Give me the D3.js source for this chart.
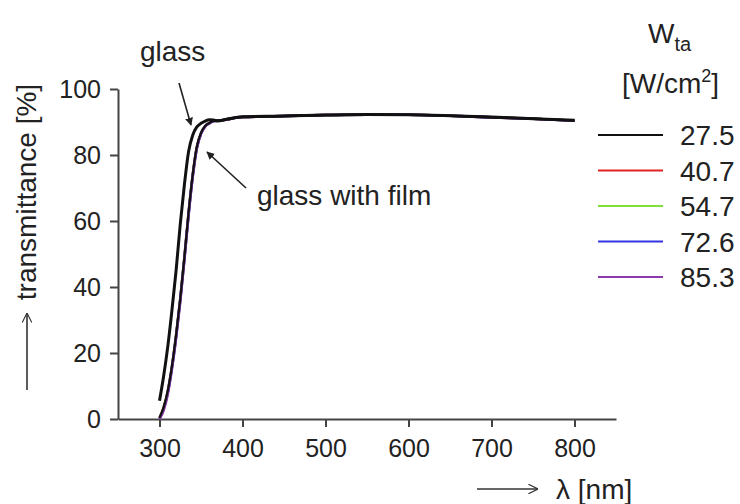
<!DOCTYPE html>
<html>
<meta charset="utf-8">
<head>
    <script src="https://d3js.org/d3.v7.min.js"></script>
    <style>
        body { margin: 0; background: #fff; }
        text { font-family: "Liberation Sans", Arial, sans-serif; fill: #222; }
    </style>
</head>
<body>
    <script>

        // wavelength grid (nm)
        var wavelengths = [300, 305, 310, 315, 320, 325, 330, 335, 340, 345, 350, 355, 360, 365, 370, 380, 390, 400, 450, 500, 550, 600, 650, 700, 750, 800];

        // bare glass
        var glass = [5.5, 13, 22, 33, 45, 59, 71, 81, 86, 88.5, 89.6, 90.3, 90.7, 90.6, 90.3, 90.8, 91.3, 91.6, 91.8, 92.1, 92.3, 92.2, 91.9, 91.5, 91.0, 90.5];

        // glass with film, one series per W_ta
        var film275 = [0.4, 3.6, 8.6, 16, 25.5, 36.5, 49, 62.5, 74, 82.5, 86.7, 88.8, 89.7, 90.3, 90.4, 90.7, 91.2, 91.5, 91.8, 92.1, 92.2, 92.2, 91.9, 91.4, 91.0, 90.4];
        var film407 = [0.3, 3.5, 8.5, 16, 25.4, 36.4, 49, 62.4, 74, 82.4, 86.6, 88.8, 89.7, 90.3, 90.4, 90.7, 91.2, 91.5, 91.8, 92.1, 92.2, 92.2, 91.9, 91.4, 91.0, 90.4];
        var film547 = [0.2, 3.3, 8.3, 15.8, 25.2, 36.2, 48.8, 62.2, 73.8, 82.3, 86.6, 88.7, 89.7, 90.3, 90.4, 90.7, 91.2, 91.5, 91.8, 92.1, 92.2, 92.2, 91.9, 91.4, 91.0, 90.4];
        var film726 = [0.1, 3.1, 8.1, 15.6, 25.0, 36.0, 48.6, 62.0, 73.6, 82.2, 86.5, 88.7, 89.6, 90.3, 90.4, 90.7, 91.2, 91.5, 91.8, 92.1, 92.2, 92.2, 91.9, 91.4, 91.0, 90.4];
        var film853 = [0.0, 2.6, 7.6, 15.2, 24.6, 35.6, 48.3, 61.7, 73.4, 82.0, 86.4, 88.6, 89.6, 90.2, 90.4, 90.7, 91.2, 91.5, 91.8, 92.1, 92.2, 92.2, 91.9, 91.4, 91.0, 90.4];

        var legendLabels = ["27.5", "40.7", "54.7", "72.6", "85.3"];
        var legendColors = ["#111111", "#e02424", "#7ee03a", "#3434e6", "#8a3aaa"];
        var filmSeries = [film275, film407, film547, film726, film853];

        var xMajor = [300, 400, 500, 600, 700, 800];
        var xMinor = [250, 350, 450, 550, 650, 750, 850];
        var yMajor = [0, 20, 40, 60, 80, 100];
        var yMinor = [10, 30, 50, 70, 90];

        var width = 740,
            height = 504;

        var svg = d3.select("body").append("svg")
            .attr("width", width)
            .attr("height", height);

        var defs = svg.append("defs");
        defs.append("marker")
            .attr("id", "solid")
            .attr("viewBox", "0 0 10 10")
            .attr("refX", 9).attr("refY", 5)
            .attr("markerWidth", 5).attr("markerHeight", 5)
            .attr("markerUnits", "strokeWidth")
            .attr("orient", "auto")
            .append("path")
            .attr("d", "M0,0 L10,5 L0,10 Z")
            .attr("fill", "#222");
        defs.append("marker")
            .attr("id", "open")
            .attr("viewBox", "0 0 10 10")
            .attr("refX", 10).attr("refY", 5)
            .attr("markerWidth", 6).attr("markerHeight", 6)
            .attr("markerUnits", "strokeWidth")
            .attr("orient", "auto")
            .append("path")
            .attr("d", "M0,0 L10,5 L0,10")
            .attr("fill", "none")
            .attr("stroke", "#333")
            .attr("stroke-width", 1.2);

        var x = d3.scaleLinear().domain([250, 850]).range([118, 616]);
        var y = d3.scaleLinear().domain([0, 100]).range([419, 89]);

        // axes
        var gx = svg.append("g").attr("transform", "translate(0," + y(0) + ")");
        gx.call(d3.axisBottom(x).tickValues(xMinor).tickSize(4).tickSizeOuter(0).tickFormat(""));
        gx.call(d3.axisBottom(x).tickValues(xMajor).tickSize(8).tickSizeOuter(0).tickPadding(12));

        var gy = svg.append("g").attr("transform", "translate(" + x(250) + ",0)");
        gy.call(d3.axisLeft(y).tickValues(yMinor).tickSize(4).tickSizeOuter(0).tickFormat(""));
        gy.call(d3.axisLeft(y).tickValues(yMajor).tickSize(8).tickSizeOuter(0).tickPadding(9));

        svg.selectAll(".domain, .tick line").attr("stroke", "#444").attr("stroke-width", 2);
        svg.selectAll(".tick text").attr("font-size", 25).attr("fill", "#222")
            .style("font-family", "Liberation Sans, Arial, sans-serif");

        // curves
        var line = d3.line()
            .x(function(d) { return x(d[0]); })
            .y(function(d) { return y(d[1]); })
            .curve(d3.curveMonotoneX);

        var drawOrder = [1, 2, 3, 4, 0];
        drawOrder.forEach(function(i) {
            svg.append("path")
                .datum(d3.zip(wavelengths, filmSeries[i]))
                .attr("d", line)
                .attr("fill", "none")
                .attr("stroke", legendColors[i])
                .attr("stroke-width", i == 0 ? 2.2 : 2.6);
        });

        svg.append("path")
            .datum(d3.zip(wavelengths, glass))
            .attr("d", line)
            .attr("fill", "none")
            .attr("stroke", "#111")
            .attr("stroke-width", 3);

        // annotations
        svg.append("text").attr("x", 140).attr("y", 61).attr("font-size", 28).text("glass");
        svg.append("line")
            .attr("x1", 179).attr("y1", 83).attr("x2", 191).attr("y2", 125)
            .attr("stroke", "#222").attr("stroke-width", 1.6)
            .attr("marker-end", "url(#solid)");

        svg.append("text").attr("x", 257).attr("y", 205).attr("font-size", 28).text("glass with film");
        svg.append("line")
            .attr("x1", 246).attr("y1", 188).attr("x2", 207).attr("y2", 152)
            .attr("stroke", "#222").attr("stroke-width", 1.6)
            .attr("marker-end", "url(#solid)");

        // axis titles
        svg.append("text")
            .attr("transform", "translate(36,192) rotate(-90)")
            .attr("text-anchor", "middle")
            .attr("font-size", 28)
            .text("transmittance [%]");
        svg.append("line")
            .attr("x1", 27).attr("y1", 390).attr("x2", 27).attr("y2", 313)
            .attr("stroke", "#333").attr("stroke-width", 1.6)
            .attr("marker-end", "url(#open)");

        svg.append("line")
            .attr("x1", 477).attr("y1", 489).attr("x2", 538).attr("y2", 489)
            .attr("stroke", "#333").attr("stroke-width", 1.6)
            .attr("marker-end", "url(#open)");
        svg.append("text").attr("x", 556).attr("y", 499).attr("font-size", 28).text("λ [nm]");

        // legend
        var lt = svg.append("text").attr("x", 648).attr("y", 43).attr("font-size", 28);
        lt.append("tspan").text("W");
        lt.append("tspan").attr("font-size", 20).attr("dy", 8).text("ta");

        var lu = svg.append("text").attr("x", 622).attr("y", 93).attr("font-size", 28);
        lu.append("tspan").text("[W/cm");
        lu.append("tspan").attr("font-size", 18).attr("dy", -11).text("2");
        lu.append("tspan").attr("dy", 11).text("]");

        var leg = svg.selectAll(".leg")
            .data(legendLabels)
            .enter().append("g")
            .attr("class", "leg")
            .attr("transform", function(d, i) { return "translate(0," + (135 + i * 35.5) + ")"; });
        leg.append("line")
            .attr("x1", 598).attr("x2", 663)
            .attr("stroke", function(d, i) { return legendColors[i]; })
            .attr("stroke-width", 2.2);
        leg.append("text")
            .attr("x", 680).attr("y", 10)
            .attr("font-size", 28)
            .text(function(d) { return d; });

    </script>
</body>
</html>
